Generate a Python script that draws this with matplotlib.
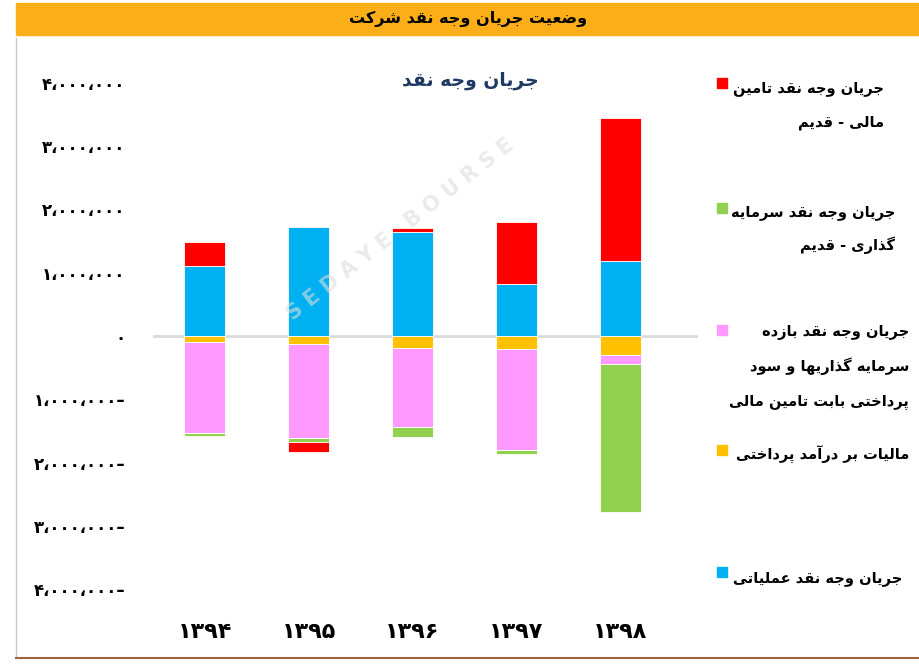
import matplotlib
matplotlib.use('Agg')
import matplotlib.pyplot as plt
from matplotlib.patches import Rectangle
from matplotlib.lines import Line2D

# ---- data (rials) ----
years = ['۱۳۹۴', '۱۳۹۵', '۱۳۹۶', '۱۳۹۷', '۱۳۹۸']
operating = [1100000, 1720000, 1650000, 820000, 1180000]
tax = [-100000, -130000, -190000, -200000, -300000]
dividends = [-1430000, -1480000, -1250000, -1600000, -150000]
investing = [-50000, -70000, -160000, -60000, -2340000]
financing = [390000, -150000, 50000, 990000, 2260000]

yticks = [-4000000, -3000000, -2000000, -1000000, 0, 1000000, 2000000, 3000000, 4000000]

header = 'وضعیت جریان وجه نقد شرکت'
title = 'جریان وجه نقد'
legend_lines = [
    ['جریان وجه نقد تامین', 'مالی - قدیم'],
    ['جریان وجه نقد سرمایه', 'گذاری - قدیم'],
    ['جریان وجه نقد بازده', 'سرمایه گذاریها و سود', 'پرداختی بابت تامین مالی'],
    ['مالیات بر درآمد پرداختی'],
    ['جریان وجه نقد عملیاتی'],
]

# ---- minimal arabic/persian shaping (matplotlib has no bidi/shaping) ----
FORMS = {
    'ا': (0xFE8D, 0xFE8E), 'آ': (0xFE81, 0xFE82), 'د': (0xFEA9, 0xFEAA),
    'ذ': (0xFEAB, 0xFEAC), 'ر': (0xFEAD, 0xFEAE), 'ز': (0xFEAF, 0xFEB0),
    'ژ': (0xFB8A, 0xFB8B), 'و': (0xFEED, 0xFEEE),
    'ب': (0xFE8F, 0xFE90, 0xFE91, 0xFE92), 'ت': (0xFE95, 0xFE96, 0xFE97, 0xFE98),
    'ث': (0xFE99, 0xFE9A, 0xFE9B, 0xFE9C), 'ج': (0xFE9D, 0xFE9E, 0xFE9F, 0xFEA0),
    'ح': (0xFEA1, 0xFEA2, 0xFEA3, 0xFEA4), 'خ': (0xFEA5, 0xFEA6, 0xFEA7, 0xFEA8),
    'س': (0xFEB1, 0xFEB2, 0xFEB3, 0xFEB4), 'ش': (0xFEB5, 0xFEB6, 0xFEB7, 0xFEB8),
    'ص': (0xFEB9, 0xFEBA, 0xFEBB, 0xFEBC), 'ض': (0xFEBD, 0xFEBE, 0xFEBF, 0xFEC0),
    'ط': (0xFEC1, 0xFEC2, 0xFEC3, 0xFEC4), 'ظ': (0xFEC5, 0xFEC6, 0xFEC7, 0xFEC8),
    'ع': (0xFEC9, 0xFECA, 0xFECB, 0xFECC), 'غ': (0xFECD, 0xFECE, 0xFECF, 0xFED0),
    'ف': (0xFED1, 0xFED2, 0xFED3, 0xFED4), 'ق': (0xFED5, 0xFED6, 0xFED7, 0xFED8),
    'ل': (0xFEDD, 0xFEDE, 0xFEDF, 0xFEE0), 'م': (0xFEE1, 0xFEE2, 0xFEE3, 0xFEE4),
    'ن': (0xFEE5, 0xFEE6, 0xFEE7, 0xFEE8), 'ه': (0xFEE9, 0xFEEA, 0xFEEB, 0xFEEC),
    'پ': (0xFB56, 0xFB57, 0xFB58, 0xFB59), 'چ': (0xFB7A, 0xFB7B, 0xFB7C, 0xFB7D),
    'ک': (0xFB8E, 0xFB8F, 0xFB90, 0xFB91), 'گ': (0xFB92, 0xFB93, 0xFB94, 0xFB95),
    'ی': (0xFBFC, 0xFBFD, 0xFBFE, 0xFBFF),
}


def shape(text):
    out = []
    for i, ch in enumerate(text):
        if ch not in FORMS:
            out.append(ch)
            continue
        f = FORMS[ch]
        prev = text[i - 1] if i > 0 else ''
        nxt = text[i + 1] if i + 1 < len(text) else ''
        jp = prev in FORMS and len(FORMS[prev]) == 4
        jn = len(f) == 4 and nxt in FORMS
        if jp and jn:
            c = f[3]
        elif jp:
            c = f[1]
        elif jn:
            c = f[2]
        else:
            c = f[0]
        out.append(chr(c))
    return ''.join(out)[::-1]


def fa_num(v):
    s = f'{abs(v):,}'.replace(',', '،')
    s = s.translate(str.maketrans('0123456789', '۰۱۲۳۴۵۶۷۸۹'))
    return s + '–' if v < 0 else s


plt.rcParams['font.family'] = ['DejaVu Sans']
W, H = 920, 664
fig = plt.figure(figsize=(W / 100, H / 100), dpi=100)


def fx(px):
    return px / W


def fy(py):
    return 1 - py / H


# header bar and chart frame
fig.add_artist(Rectangle((fx(16), fy(35)), fx(904), 32 / H, color='#FBAE17', transform=fig.transFigure))
fig.text(fx(468), fy(19), shape(header), ha='center', va='center', fontsize=11.5, fontweight='bold')
fig.add_artist(Line2D([fx(16), fx(16)], [fy(38), fy(658)], color='#C8C8C8', lw=1))
fig.add_artist(Line2D([fx(16), fx(920)], [fy(658), fy(658)], color='#A0623A', lw=1.5))

ax = fig.add_axes([fx(153), fy(589), (698 - 153) / W, (589 - 83) / H])
x = list(range(len(years)))
series = [(operating, '#00B0F0'), (tax, '#FFC000'), (dividends, '#FF99FF'),
          (investing, '#92D050'), (financing, '#FF0000')]
pos = [0] * len(years)
neg = [0] * len(years)
for vals, col in series:
    bottoms = [pos[i] if v >= 0 else neg[i] for i, v in enumerate(vals)]
    ax.bar(x, vals, bottom=bottoms, width=0.395, color=col, edgecolor='white', linewidth=0.6)
    for i, v in enumerate(vals):
        if v >= 0:
            pos[i] += v
        else:
            neg[i] += v

ax.axhline(0, color='#D9D9D9', lw=2, zorder=0)
ax.set_xlim(-0.5, 4.75)
ax.set_ylim(-4000000, 4000000)
ax.set_yticks(yticks)
ax.set_yticklabels([fa_num(v) for v in yticks], fontsize=12, fontweight='bold')
ax.set_xticks(x)
ax.set_xticklabels(years, fontsize=16, fontweight='bold')
ax.tick_params(length=0)
ax.tick_params(axis='y', pad=20)
ax.tick_params(axis='x', pad=24)
for s in ax.spines.values():
    s.set_visible(False)

fig.text(fx(470), fy(80), shape(title), ha='center', va='center', fontsize=13.5,
         fontweight='bold', color='#1F3864')

# faint watermark
fig.text(fx(400), fy(230), 'S E D A Y E   B O U R S E', ha='center', va='center',
         fontsize=15, fontweight='bold', color='#DDDDDD', alpha=0.6, rotation=38)

# legend (manual, right side)
leg_colors = ['#FF0000', '#92D050', '#FF99FF', '#FFC000', '#00B0F0']
leg_sq_y = [83, 208, 330, 450, 572]
leg_text_y = [[88, 123], [212, 245], [332, 366, 402], [455], [578]]
leg_right = [884, 895, 909, 909, 902]
for col, sy, tys, xr, lines in zip(leg_colors, leg_sq_y, leg_text_y, leg_right, legend_lines):
    fig.add_artist(Rectangle((fx(717), fy(sy + 5)), fx(10), 10 / H, color=col, transform=fig.transFigure))
    for ty, line in zip(tys, lines):
        fig.text(fx(xr), fy(ty), shape(line), ha='right', va='center', fontsize=10.5, fontweight='bold')

fig.savefig('out.png', dpi=100)
